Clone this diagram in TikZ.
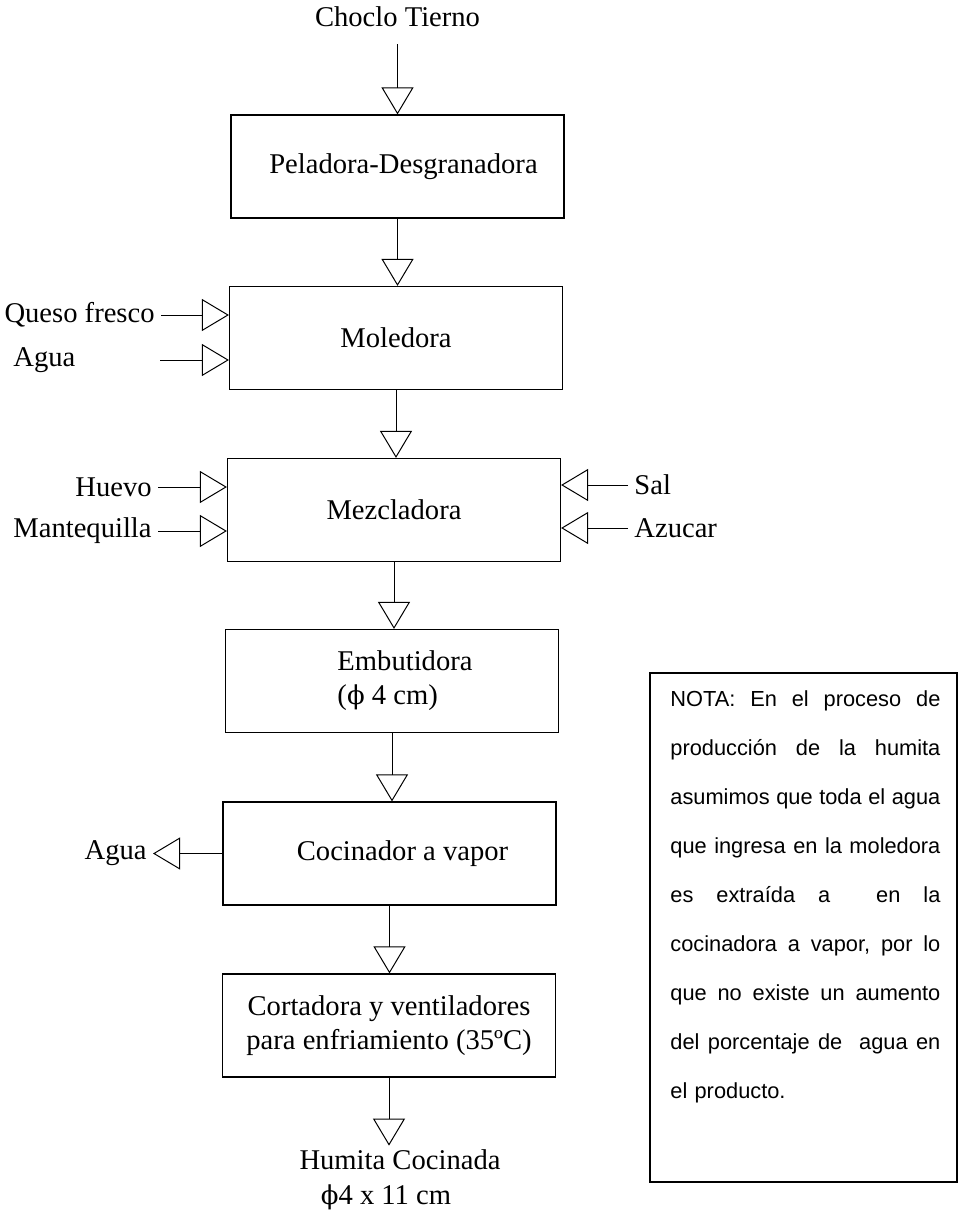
\documentclass[tikz,border=0pt]{standalone}
\usepackage{fontspec}
\setmainfont{Liberation Serif}
\newfontfamily\notafont{Liberation Sans}
\newfontfamily\simbolo{DejaVu Serif}
\usetikzlibrary{arrows.meta,positioning}
\newcommand{\notalinea}[1]{\leavevmode\hbox to 135pt{#1}}
\newcommand{\diam}{{\simbolo\fontsize{13}{17}\selectfont ϕ}}
\tikzset{
  proceso/.style = {draw, line width=0.6pt, minimum width=166.5pt, minimum height=51.5pt, inner sep=0pt, align=center, font=\fontsize{14.3}{17}\selectfont},
  etiqueta/.style = {inner xsep=3pt, inner ysep=2pt, font=\fontsize{14.3}{17.5}\selectfont},
  flecha/.style = {line width=0.5pt, -{Triangle[open, length=13.5pt, width=16pt]}},
  nota/.style = {inner sep=0pt, text width=135pt, align=left, font=\notafont\fontsize{10.9}{24.5}\selectfont},
}

\begin{document}
\begin{tikzpicture}[x=0.5pt, y=-0.5pt]
\useasboundingbox (0,0) rectangle (959,1210);

\node [proceso] (peladora) at (397.5,166.5) {\hspace*{6pt}Peladora-Desgranadora};
\node [proceso] (moledora) at (396,338) {Moledora};
\node [proceso] (mezcladora) at (394,510) {Mezcladora};
\node [proceso, align=left] (embutidora) at (392,681) {\hspace*{13pt}Embutidora\\\hspace*{13pt}(\diam\ 4 cm)};
\node [proceso] (cocinador) at (389.5,853.5) {\hspace*{13pt}Cocinador a vapor};
\node [proceso] (cortadora) at (389,1025.5) {Cortadora y ventiladores\\para enfriamiento (35ºC)};

\node [etiqueta, inner ysep=8.5pt, above=35pt of peladora] (choclo) {Choclo Tierno};
\node [etiqueta, align=center, below=34pt of cortadora, xshift=5.5pt] (humita) {Humita Cocinada\\\diam4 x 11 cm\hspace*{14pt}};

\node [etiqueta, anchor=east] (queso) at (161,315) {Queso fresco};
\node [etiqueta, anchor=west] (agua1) at (7,360) {Agua};
\coordinate (agua1in) at (160,360);
\node [etiqueta, anchor=east] (huevo) at (158,487) {Huevo};
\node [etiqueta, anchor=east] (mantequilla) at (158,531) {Mantequilla};
\node [etiqueta, anchor=west] (sal) at (628,485) {Sal};
\node [etiqueta, anchor=west] (azucar) at (628,528) {Azucar};
\node [etiqueta, anchor=east] (agua2) at (153,853.5) {Agua};

\draw[flecha] (choclo.south) -- (choclo.south |- peladora.north);
\draw[flecha] (peladora.south) -- (peladora.south |- moledora.north);
\draw[flecha] (moledora.south) -- (moledora.south |- mezcladora.north);
\draw[flecha] (mezcladora.south) -- (mezcladora.south |- embutidora.north);
\draw[flecha] (embutidora.south) -- (embutidora.south |- cocinador.north);
\draw[flecha] (cocinador.south) -- (cocinador.south |- cortadora.north);
\draw[flecha] (cortadora.south) -- (cortadora.south |- humita.north);

\draw[flecha] (queso.east) -- (queso.east -| moledora.west);
\draw[flecha] (agua1in) -- (agua1in -| moledora.west);
\draw[flecha] (huevo.east) -- (huevo.east -| mezcladora.west);
\draw[flecha] (mantequilla.east) -- (mantequilla.east -| mezcladora.west);
\draw[flecha] (sal.west) -- (sal.west -| mezcladora.east);
\draw[flecha] (azucar.west) -- (azucar.west -| mezcladora.east);
\draw[flecha] (cocinador.west) -- (agua2.east);

\node [draw, line width=0.6pt, minimum width=153.5pt, minimum height=254.5pt, inner sep=0pt] (notabox) at (803.5,927.5) {};
\node [nota, anchor=north west] (nota) at (670,690) {%
\notalinea{NOTA:\hfill En\hfill el\hfill proceso\hfill de}\\
\notalinea{producción\hfill de\hfill la\hfill humita}\\
\notalinea{asumimos\hfill que\hfill toda\hfill el\hfill agua}\\
\notalinea{que\hfill ingresa\hfill en\hfill la\hfill moledora}\\
\notalinea{es\hfill extraída\hfill a\hfill\hfill en\hfill la}\\
\notalinea{cocinadora\hfill a\hfill vapor,\hfill por\hfill lo}\\
\notalinea{que\hfill no\hfill existe\hfill un\hfill aumento}\\
\notalinea{del\hfill porcentaje\hfill de\hfill\hfill agua\hfill en}\\
el producto.};
\end{tikzpicture}
\end{document}
